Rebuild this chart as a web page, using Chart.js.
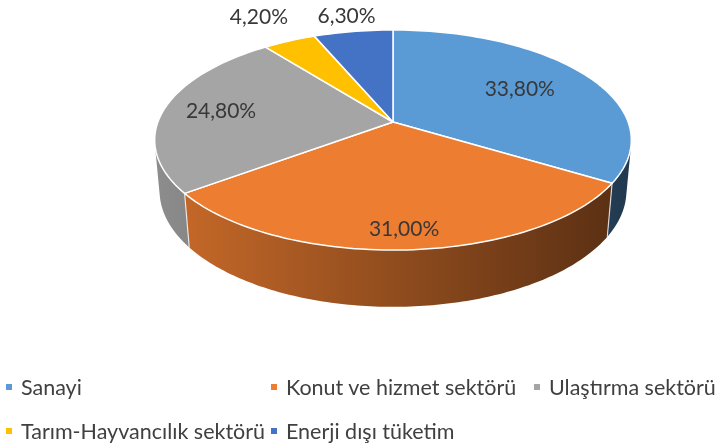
<!DOCTYPE html>
<html lang="tr">
<head>
<meta charset="utf-8">
<title>Enerji tüketiminin sektörel dağılımı</title>
<script src="https://cdn.jsdelivr.net/npm/chart.js@4.4.1/dist/chart.umd.min.js"></script>
<style>
  body { margin: 0; background: #fff; }
  #wrap { position: relative; width: 720px; height: 446px; overflow: hidden; }
  #legend {
    position: absolute; left: 6px; top: 365px;
    display: grid; grid-template-columns: 265px 263px 200px; grid-auto-rows: 44px;
    font-family: Lato, "Open Sans", sans-serif; font-size: 21.5px; color: #404040;
  }
  .item { display: flex; align-items: center; white-space: nowrap; }
  .box { width: 6px; height: 6px; margin-right: 9px; flex: none; }
</style>
</head>
<body>
<div id="wrap">
  <canvas id="pieChart" width="720" height="446"></canvas>
  <div id="legend"></div>
</div>
<script>
// sector shares (%), clockwise from 12 o'clock
const sectors = ['Sanayi', 'Konut ve hizmet sektörü', 'Ulaştırma sektörü', 'Tarım-Hayvancılık sektörü', 'Enerji dışı tüketim'];
const shares = [33.8, 31.0, 24.8, 4.2, 6.3];
const shareLabels = ['33,80%', '31,00%', '24,80%', '4,20%', '6,30%'];
const colors = ['#5B9BD5', '#ED7D31', '#A5A5A5', '#FFC000', '#4472C4'];

// perspective set-up for the fake 3D pie (unit radius disc)
const TILT = 27.1 * Math.PI / 180;
const DIST = 5.44;        // camera distance / radius
const SCALE = 1279;       // focal length in px
const DEPTH = 0.245;      // wall height / radius
const labelRadius = [0.65, 0.86, 0.75, 1.35, 1.2];

function project(cx, cy, ang, r, y) {
    let X = r * Math.cos(ang);
    let Z = -r * Math.sin(ang);
    let yy = y * Math.cos(TILT) + Z * Math.sin(TILT);
    let d = DIST + Z * Math.cos(TILT) - y * Math.sin(TILT);
    return [cx + SCALE * X / d, cy - SCALE * yy / d];
}

function shade(hex, f) {
    let n = parseInt(hex.slice(1), 16);
    let r = Math.round(((n >> 16) & 255) * f);
    let g = Math.round(((n >> 8) & 255) * f);
    let b = Math.round((n & 255) * f);
    return `rgb(${r},${g},${b})`;
}

const pie3d = {
    id: 'pie3d',
    beforeDatasetsDraw(chart) {
        const ctx = chart.ctx;
        const arcs = chart.getDatasetMeta(0).data;
        const cx = arcs[0].x, cy = arcs[0].y;
        const steps = 120;

        // front part of the cylinder wall that faces the camera
        const edge = Math.asin(1 / (DIST * Math.cos(TILT)));
        const visFrom = edge, visTo = Math.PI - edge;
        const left = project(cx, cy, Math.PI, 1, 0)[0] - 10;
        const right = project(cx, cy, 0, 1, 0)[0] + 10;

        arcs.forEach((arc, i) => {
            let a = Math.max(arc.startAngle, visFrom);
            let b = Math.min(arc.endAngle, visTo);
            if (b <= a) return;
            let grad = ctx.createLinearGradient(left, 0, right, 0);
            grad.addColorStop(0, shade(colors[i], 0.86));
            grad.addColorStop(1, shade(colors[i], 0.36));
            ctx.beginPath();
            for (let k = 0; k <= steps; k++) {
                let p = project(cx, cy, a + (b - a) * k / steps, 1, 0);
                k === 0 ? ctx.moveTo(p[0], p[1]) : ctx.lineTo(p[0], p[1]);
            }
            for (let k = steps; k >= 0; k--) {
                let p = project(cx, cy, a + (b - a) * k / steps, 1, -DEPTH);
                ctx.lineTo(p[0], p[1]);
            }
            ctx.closePath();
            ctx.fillStyle = grad;
            ctx.fill();
            // slice seam on the wall
            if (arc.startAngle > visFrom) {
                let p1 = project(cx, cy, arc.startAngle, 1, 0);
                let p2 = project(cx, cy, arc.startAngle, 1, -DEPTH);
                ctx.beginPath();
                ctx.moveTo(p1[0], p1[1]);
                ctx.lineTo(p2[0], p2[1]);
                ctx.strokeStyle = 'rgba(255,255,255,0.75)';
                ctx.lineWidth = 1.2;
                ctx.stroke();
            }
        });

        // top faces
        arcs.forEach((arc, i) => {
            let a = arc.startAngle, b = arc.endAngle;
            let n = Math.max(4, Math.round(steps * (b - a) / Math.PI));
            ctx.beginPath();
            let c = project(cx, cy, 0, 0, 0);
            ctx.moveTo(c[0], c[1]);
            for (let k = 0; k <= n; k++) {
                let p = project(cx, cy, a + (b - a) * k / n, 1, 0);
                ctx.lineTo(p[0], p[1]);
            }
            ctx.closePath();
            ctx.fillStyle = colors[i];
            ctx.fill();
            ctx.strokeStyle = '#ffffff';
            ctx.lineWidth = 1.5;
            ctx.lineJoin = 'round';
            ctx.stroke();
        });

        // data labels
        ctx.font = '21px Lato, "Open Sans", sans-serif';
        ctx.fillStyle = '#383838';
        ctx.textAlign = 'center';
        ctx.textBaseline = 'middle';
        arcs.forEach((arc, i) => {
            let mid = (arc.startAngle + arc.endAngle) / 2;
            let p = project(cx, cy, mid, labelRadius[i], 0);
            ctx.fillText(shareLabels[i], p[0], p[1]);
        });
        return false;
    }
};

const chart = new Chart(document.getElementById('pieChart'), {
    type: 'pie',
    data: {
        labels: sectors,
        datasets: [{ data: shares, backgroundColor: colors, borderWidth: 0 }]
    },
    options: {
        responsive: false,
        animation: false,
        devicePixelRatio: 1,
        layout: { padding: { left: 66, right: 0, top: 0, bottom: 202 } },
        plugins: {
            legend: { display: false },
            tooltip: { enabled: false }
        }
    },
    plugins: [pie3d]
});

// legend laid out in columns like the original
const legendBox = document.getElementById('legend');
sectors.forEach((name, i) => {
    let item = document.createElement('div');
    item.className = 'item';
    item.innerHTML = `<span class="box" style="background:${colors[i]}"></span><span>${name}</span>`;
    legendBox.appendChild(item);
});
</script>
</body>
</html>
